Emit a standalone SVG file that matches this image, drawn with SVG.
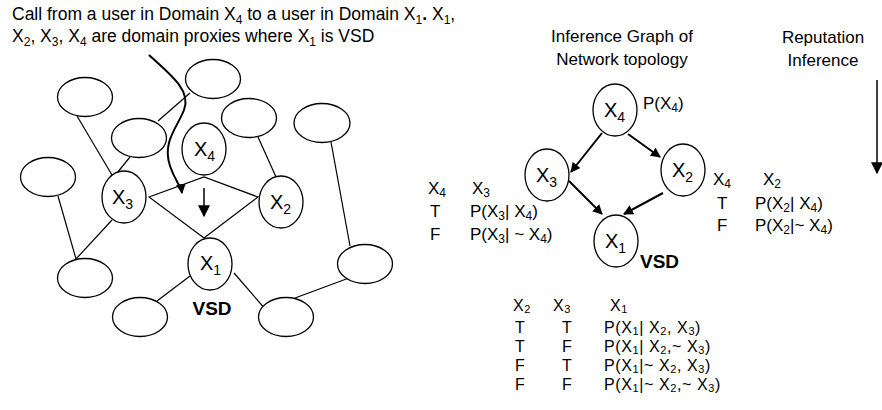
<svg xmlns="http://www.w3.org/2000/svg" width="882" height="410" viewBox="0 0 882 410">
<defs>
<style>
text{font-family:"Liberation Sans",Arial,sans-serif;fill:#000}
.t{font-size:17px}
.c{font-size:17.5px}
.m{font-size:16px;letter-spacing:0.6px}
.n{font-size:20px}
.b{font-size:19px;font-weight:bold}
.s{font-size:12px}
.ss{font-size:11px}
.sn{font-size:14px}
.e{fill:#fff;stroke:#000;stroke-width:1.3}
.l{stroke:#000;stroke-width:1.2;fill:none}
.a{stroke:#000;stroke-width:2;fill:none}
</style>
<marker id="ah" viewBox="0 0 10 10" refX="9" refY="5" markerWidth="5" markerHeight="5" orient="auto" markerUnits="strokeWidth">
<path d="M0,0 L10,5 L0,10 z" fill="#000"/>
</marker>
<marker id="ah2" viewBox="0 0 10 10" refX="9" refY="5" markerWidth="9" markerHeight="8" orient="auto" markerUnits="strokeWidth">
<path d="M0,0 L10,5 L0,10 z" fill="#000"/>
</marker>
</defs>
<rect width="882" height="410" fill="#fff"/>

<g id="caption">
<text class="c" x="12" y="20">Call from a user in Domain X<tspan class="s" dy="4">4</tspan><tspan dy="-4"> to a user in Domain X</tspan><tspan class="s" dy="4">1</tspan><tspan dy="-4" font-weight="bold">.</tspan><tspan> X</tspan><tspan class="s" dy="4">1</tspan><tspan dy="-4">,</tspan></text>
<text class="c" x="12" y="42">X<tspan class="s" dy="4">2</tspan><tspan dy="-4">, X</tspan><tspan class="s" dy="4">3</tspan><tspan dy="-4">, X</tspan><tspan class="s" dy="4">4</tspan><tspan dy="-4"> are domain proxies where X</tspan><tspan class="s" dy="4">1</tspan><tspan dy="-4"> is VSD</tspan></text>
</g>

<g id="left-connectors">
<line class="l" x1="77" y1="116" x2="112" y2="175"/>
<line class="l" x1="130" y1="157" x2="117" y2="173"/>
<line class="l" x1="158" y1="121" x2="190" y2="93"/>
<line class="l" x1="258" y1="137" x2="276" y2="177"/>
<line class="l" x1="331" y1="142" x2="350" y2="246"/>
<line class="l" x1="58" y1="196" x2="76" y2="259"/>
<line class="l" x1="112" y1="220" x2="76" y2="259"/>
<line class="l" x1="190" y1="276" x2="157" y2="301"/>
<line class="l" x1="234" y1="273" x2="266" y2="310"/>
<line class="l" x1="295" y1="298" x2="349" y2="278"/>
<polygon class="l" points="149,197 204,177 258,197 204,238"/>
<line x1="204" y1="188" x2="204" y2="216" stroke="#000" stroke-width="1.5" marker-end="url(#ah2)"/>
<path class="a" d="M149,55 C175,78 191,92 184,110 C177,128 162,142 170,166 C175,181 181,186 182,193" marker-end="url(#ah)"/>
</g>

<g id="left-nodes">
<ellipse class="e" cx="213" cy="79" rx="27.5" ry="19.5"/>
<ellipse class="e" cx="85" cy="97" rx="27.5" ry="19.5"/>
<ellipse class="e" cx="139" cy="138" rx="27.5" ry="19.5"/>
<ellipse class="e" cx="249" cy="118" rx="27.5" ry="19.5"/>
<ellipse class="e" cx="322" cy="123" rx="28" ry="19.5"/>
<ellipse class="e" cx="48" cy="177" rx="27.5" ry="19.5"/>
<ellipse class="e" cx="85" cy="278" rx="27.5" ry="19.5"/>
<ellipse class="e" cx="140" cy="317" rx="27.5" ry="19.5"/>
<ellipse class="e" cx="286" cy="317" rx="27.5" ry="19.5"/>
<ellipse class="e" cx="365" cy="264" rx="27.5" ry="19.5"/>
</g>
<g id="lX4"><ellipse class="e" cx="204" cy="149" rx="22" ry="26"/><text class="n" x="194" y="156">X<tspan class="sn" dy="5">4</tspan></text></g>
<g id="lX3"><ellipse class="e" cx="124" cy="197" rx="22" ry="26"/><text class="n" x="112" y="204">X<tspan class="sn" dy="5">3</tspan></text></g>
<g id="lX2"><ellipse class="e" cx="281" cy="202" rx="22" ry="26"/><text class="n" x="270" y="209">X<tspan class="sn" dy="5">2</tspan></text></g>
<g id="lX1"><ellipse class="e" cx="210" cy="264" rx="22" ry="26"/><text class="n" x="200" y="270">X<tspan class="sn" dy="5">1</tspan></text><text class="b" x="212" y="315" text-anchor="middle">VSD</text></g>

<g id="titles">
<text class="t" x="622" y="42" text-anchor="middle">Inference Graph of</text>
<text class="t" x="622" y="65" text-anchor="middle">Network topology</text>
<text class="t" x="823" y="43" text-anchor="middle">Reputation</text>
<text class="t" x="823" y="66" text-anchor="middle">Inference</text>
</g>

<g id="right-connectors">
<line class="a" x1="602" y1="133" x2="571" y2="172" marker-end="url(#ah)"/>
<line class="a" x1="628" y1="134" x2="660" y2="157" marker-end="url(#ah)"/>
<line class="a" x1="569" y1="181" x2="602" y2="214" marker-end="url(#ah)"/>
<line class="a" x1="663" y1="193" x2="624" y2="214" marker-end="url(#ah)"/>
<line x1="877" y1="80" x2="877" y2="173" stroke="#000" stroke-width="1.5" marker-end="url(#ah2)"/>
</g>

<g id="rX4"><ellipse class="e" cx="615" cy="110" rx="22" ry="26"/><text class="n" x="604" y="117">X<tspan class="sn" dy="5">4</tspan></text><text class="t" x="643" y="109">P(X<tspan class="s" dy="3">4</tspan><tspan dy="-3">)</tspan></text></g>
<g id="rX3"><ellipse class="e" cx="547" cy="175" rx="22" ry="26"/><text class="n" x="536" y="182">X<tspan class="sn" dy="5">3</tspan></text></g>
<g id="rX2"><ellipse class="e" cx="683" cy="170" rx="22" ry="26"/><text class="n" x="672" y="177">X<tspan class="sn" dy="5">2</tspan></text></g>
<g id="rX1"><ellipse class="e" cx="616" cy="241" rx="22" ry="26"/><text class="n" x="605" y="248">X<tspan class="sn" dy="5">1</tspan></text><text class="b" x="640" y="268">VSD</text></g>

<g id="table-x3">
<text class="t" x="428" y="194">X<tspan class="s" dy="3">4</tspan></text>
<text class="t" x="472" y="194">X<tspan class="s" dy="3">3</tspan></text>
<text class="t" x="430" y="217">T</text>
<text class="t" x="470" y="217">P(X<tspan class="s" dy="3">3</tspan><tspan dy="-3">| X</tspan><tspan class="s" dy="3">4</tspan><tspan dy="-3">)</tspan></text>
<text class="t" x="430" y="240">F</text>
<text class="t" x="470" y="240">P(X<tspan class="s" dy="3">3</tspan><tspan dy="-3">| ~ X</tspan><tspan class="s" dy="3">4</tspan><tspan dy="-3">)</tspan></text>
</g>

<g id="table-x2">
<text class="t" x="713" y="185">X<tspan class="s" dy="3">4</tspan></text>
<text class="t" x="763" y="185">X<tspan class="s" dy="3">2</tspan></text>
<text class="t" x="717" y="209">T</text>
<text class="t" x="755" y="209">P(X<tspan class="s" dy="3">2</tspan><tspan dy="-3">| X</tspan><tspan class="s" dy="3">4</tspan><tspan dy="-3">)</tspan></text>
<text class="t" x="717" y="231">F</text>
<text class="t" x="755" y="231">P(X<tspan class="s" dy="3">2</tspan><tspan dy="-3">|~ X</tspan><tspan class="s" dy="3">4</tspan><tspan dy="-3">)</tspan></text>
</g>

<g id="table-x1">
<text class="m" x="513" y="311">X<tspan class="ss" dy="2">2</tspan></text>
<text class="m" x="553" y="311">X<tspan class="ss" dy="2">3</tspan></text>
<text class="m" x="610" y="311">X<tspan class="ss" dy="2">1</tspan></text>
<text class="m" x="515" y="333">T</text><text class="m" x="562" y="333">T</text>
<text class="m" x="604" y="333">P(X<tspan class="ss" dy="2">1</tspan><tspan dy="-2">| X</tspan><tspan class="ss" dy="2">2</tspan><tspan dy="-2">, X</tspan><tspan class="ss" dy="2">3</tspan><tspan dy="-2">)</tspan></text>
<text class="m" x="515" y="352">T</text><text class="m" x="562" y="352">F</text>
<text class="m" x="604" y="352">P(X<tspan class="ss" dy="2">1</tspan><tspan dy="-2">| X</tspan><tspan class="ss" dy="2">2</tspan><tspan dy="-2">,~ X</tspan><tspan class="ss" dy="2">3</tspan><tspan dy="-2">)</tspan></text>
<text class="m" x="515" y="371">F</text><text class="m" x="562" y="371">T</text>
<text class="m" x="604" y="371">P(X<tspan class="ss" dy="2">1</tspan><tspan dy="-2">|~ X</tspan><tspan class="ss" dy="2">2</tspan><tspan dy="-2">, X</tspan><tspan class="ss" dy="2">3</tspan><tspan dy="-2">)</tspan></text>
<text class="m" x="515" y="390">F</text><text class="m" x="562" y="390">F</text>
<text class="m" x="604" y="390">P(X<tspan class="ss" dy="2">1</tspan><tspan dy="-2">|~ X</tspan><tspan class="ss" dy="2">2</tspan><tspan dy="-2">,~ X</tspan><tspan class="ss" dy="2">3</tspan><tspan dy="-2">)</tspan></text>
</g>
</svg>
